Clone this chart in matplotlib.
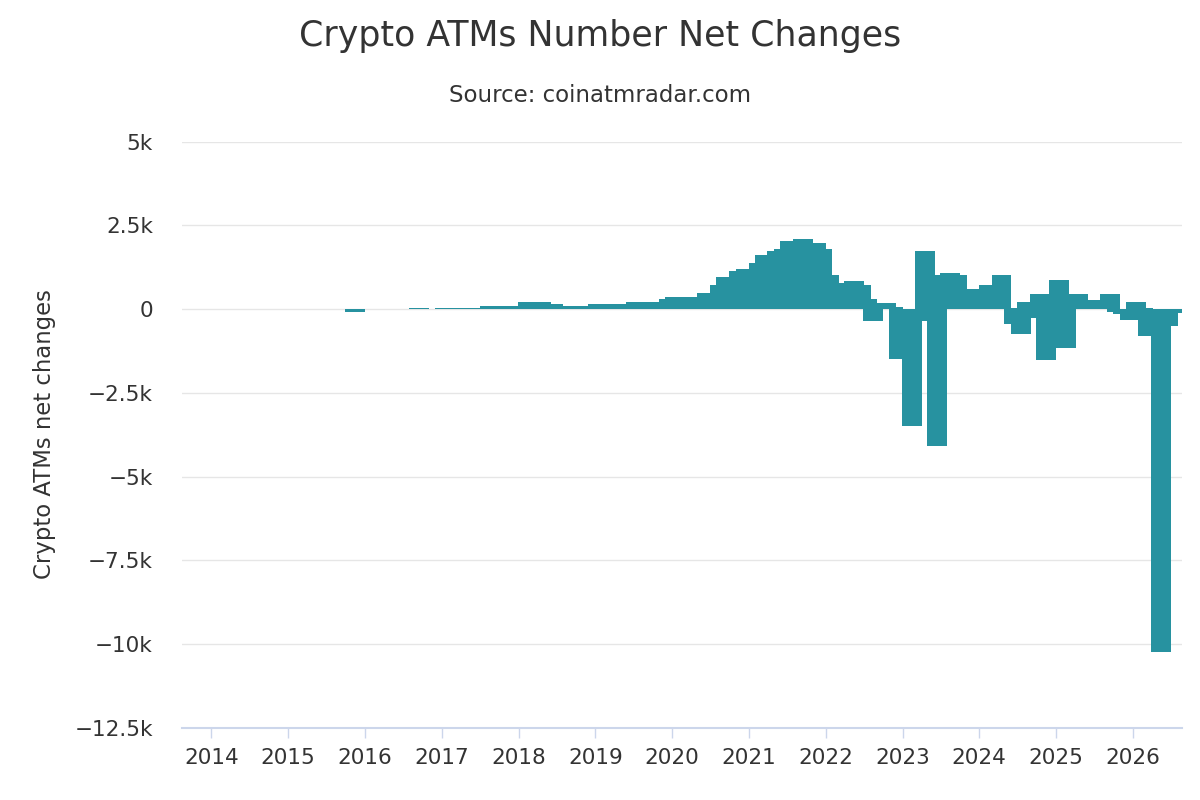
import matplotlib
matplotlib.use("Agg")
import matplotlib.pyplot as plt
import matplotlib.dates as mdates
import pandas as pd

# ---------------- data ----------------
title = "Crypto ATMs Number Net Changes"
subtitle = "Source: coinatmradar.com"
y_label = "Crypto ATMs net changes"

first_month = "2015-10"
last_month = "2026-07"

net_2015 = [0, -100, 0]
net_2016 = [0, 0, 0, 0, 0, 0, 0, 0, 40, 0, 0, 0]
net_2017 = [30, 30, 30, 30, 30, 30, 30, 90, 90, 90, 90, 90]
net_2018 = [90, 220, 220, 220, 150, 150, 95, 95, 95, 95, 95, 95]
net_2019 = [150, 150, 150, 150, 150, 150, 220, 220, 220, 220, 220, 290]
net_2020 = [350, 350, 350, 350, 350, 470, 470, 705, 955, 955, 1134, 1194]
net_2021 = [1194, 1373, 1611, 1611, 1731, 1790, 2029, 2029, 2089, 1969, 1969, 1790]
net_2022 = [1015, 776, 776, 776, 836, 716, 298, -358, 179, 179, 60, -1492]
net_2023 = [-1200, -3491, -358, 1731, 900, -4088, 1015, 1074, 1015, 597, 597, 597]
net_2024 = [597, 716, 716, 1015, 30, -448, -746, 220, -270, 448, -1522, 400]
net_2025 = [865, -1164, 300, 448, 269, 220, 269, 220, 448, -90, -149, -328]
net_2026 = [209, 30, -806, -500, -10230, -507, -130]

net_changes = (net_2015 + net_2016 + net_2017 + net_2018 + net_2019 + net_2020
               + net_2021 + net_2022 + net_2023 + net_2024 + net_2025 + net_2026)

y_ticks = [5000, 2500, 0, -2500, -5000, -7500, -10000, -12500]
y_tick_labels = ["5k", "2.5k", "0", "\u22122.5k", "\u22125k", "\u22127.5k",
                 "\u221210k", "\u221212.5k"]
x_years = list(range(2014, 2027))

# ---------------- style ----------------
BAR = "#2792a0"
TEXT = "#333333"
GRID = "#e6e6e6"
AXIS = "#ccd6eb"
plt.rcParams["font.family"] = ["DejaVu Sans"]

months = pd.date_range(first_month, last_month, freq="MS")
assert len(months) == len(net_changes)
centers = mdates.date2num((months + pd.Timedelta(days=14.5)).to_pydatetime())

W, H = 1200, 800
fig = plt.figure(figsize=(12, 8), dpi=100)
left, right, top, bottom = 182, 1182, 141.5, 728
ax = fig.add_axes([left / W, 1 - bottom / H, (right - left) / W, (bottom - top) / H])

ax.bar(centers, net_changes, width=95, color=BAR, linewidth=0, align="center", zorder=3)

ax.set_ylim(-12500, 5000)
ax.set_xlim(mdates.date2num(pd.Timestamp("2013-08-14")),
            mdates.date2num(pd.Timestamp("2026-08-22")))

ax.set_yticks(y_ticks)
ax.set_yticklabels(y_tick_labels)
ax.yaxis.grid(True, color=GRID, linewidth=1, zorder=0)
ax.set_axisbelow(True)
ax.tick_params(axis="y", length=0, pad=21, labelsize=15.5, labelcolor=TEXT)

ax.set_xticks([mdates.date2num(pd.Timestamp(f"{y}-01-01")) for y in x_years])
ax.set_xticklabels([str(y) for y in x_years])
ax.tick_params(axis="x", direction="out", length=7.5, width=1, color=AXIS,
               pad=7, labelsize=15.5, labelcolor=TEXT)

for s in ["top", "right", "left"]:
    ax.spines[s].set_visible(False)
ax.spines["bottom"].set_color(AXIS)
ax.spines["bottom"].set_linewidth(1.5)
ax.spines["bottom"].set_zorder(4)

fig.text(0.5, 1 - 36 / H, title, ha="center", va="center", fontsize=25, color=TEXT)
fig.text(0.5, 1 - 96 / H, subtitle, ha="center", va="center", fontsize=16.5, color=TEXT)
fig.text(45 / W, 1 - 434 / H, y_label, ha="center", va="center", rotation=90,
         fontsize=16.4, color=TEXT)

fig.savefig("out.png", dpi=100)
